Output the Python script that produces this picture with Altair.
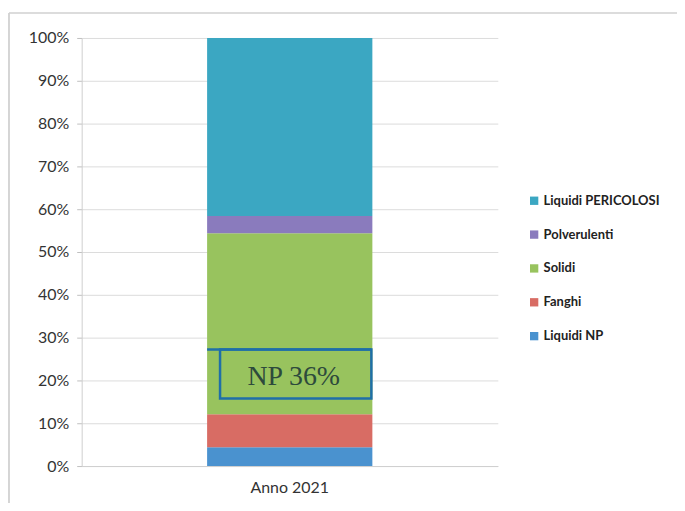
import altair as alt
import pandas as pd

categories = ["Liquidi NP", "Fanghi", "Solidi", "Polverulenti", "Liquidi PERICOLOSI"]
values = [4.4, 7.7, 42.3, 4.0, 41.6]
colors = ["#4a92cf", "#d86c64", "#98c35e", "#8a7bbd", "#3ba7c2"]
legend_order = ["Liquidi PERICOLOSI", "Polverulenti", "Solidi", "Fanghi", "Liquidi NP"]
year_label = "Anno 2021"

box_low, box_high = 15.8, 27.2
box_text = "NP 36%"

df = pd.DataFrame({
    "anno": [year_label] * len(categories),
    "tipo": categories,
    "valore": [v / 100 for v in values],
    "ordine": list(range(len(categories))),
})

ann = pd.DataFrame({"lo": [box_low / 100], "hi": [box_high / 100],
                    "mid": [(box_low + box_high) / 200 - 0.008], "t": [box_text]})

font = "Lato"

bars = alt.Chart(df).mark_bar(size=166).encode(
    x=alt.X("anno:N", title=None,
            axis=alt.Axis(labelAngle=0, labelFontSize=16, labelFont=font, labelColor="#333",
                          ticks=False, grid=False, domainColor="#d0d0d0", labelPadding=14)),
    y=alt.Y("valore:Q", stack="zero", title=None,
            scale=alt.Scale(domain=[0, 1], nice=False),
            axis=alt.Axis(format=".0%", values=[i / 10 for i in range(11)],
                          labelFontSize=16, labelFont=font, labelColor="#333",
                          tickSize=5, tickColor="#c0c0c0", domainColor="#d0d0d0",
                          gridColor="#dcdcdc", labelPadding=8)),
    color=alt.Color("tipo:N",
                    scale=alt.Scale(domain=categories, range=colors),
                    sort=legend_order,
                    legend=alt.Legend(title=None, orient="none", legendX=448, legendY=157,
                                      symbolType="square", symbolSize=70, symbolStrokeWidth=0,
                                      labelFont=font, labelFontSize=13, labelFontWeight="bold",
                                      labelColor="#222", rowPadding=20, labelOffset=3,
                                      values=legend_order)),
    order=alt.Order("ordine:Q"),
)

box = alt.Chart(ann).mark_rect(fill=None, stroke="#1f6fa8", strokeWidth=2.5).encode(
    x=alt.value(139), x2=alt.value(291),
    y="lo:Q", y2="hi:Q",
)
top_line = alt.Chart(ann).mark_rule(color="#1f6fa8", strokeWidth=2.5).encode(
    x=alt.value(126), x2=alt.value(291), y="hi:Q",
)
label = alt.Chart(ann).mark_text(font="Liberation Serif", fontSize=28, color="#2d4a3c",
                                 baseline="middle", align="center").encode(
    x=alt.value(213), y="mid:Q", text="t:N",
)

frame_left = alt.Chart(ann).mark_rule(color="#c8c8c8", strokeWidth=1.5).encode(
    x=alt.value(-73), y=alt.value(-25), y2=alt.value(480))
frame_top = alt.Chart(ann).mark_rule(color="#d0d0d0", strokeWidth=1.5).encode(
    x=alt.value(-73), x2=alt.value(600), y=alt.value(-25))

chart = alt.layer(bars, box, top_line, label, frame_left, frame_top).properties(
    width=418, height=430,
    background="white",
    autosize=alt.AutoSizeParams(type="none"),
    padding={"left": 74, "top": 29, "right": 180, "bottom": 36},
).configure_view(stroke="transparent", strokeWidth=0)

chart.save("out.html", embed_options={"renderer": "svg", "actions": False})
